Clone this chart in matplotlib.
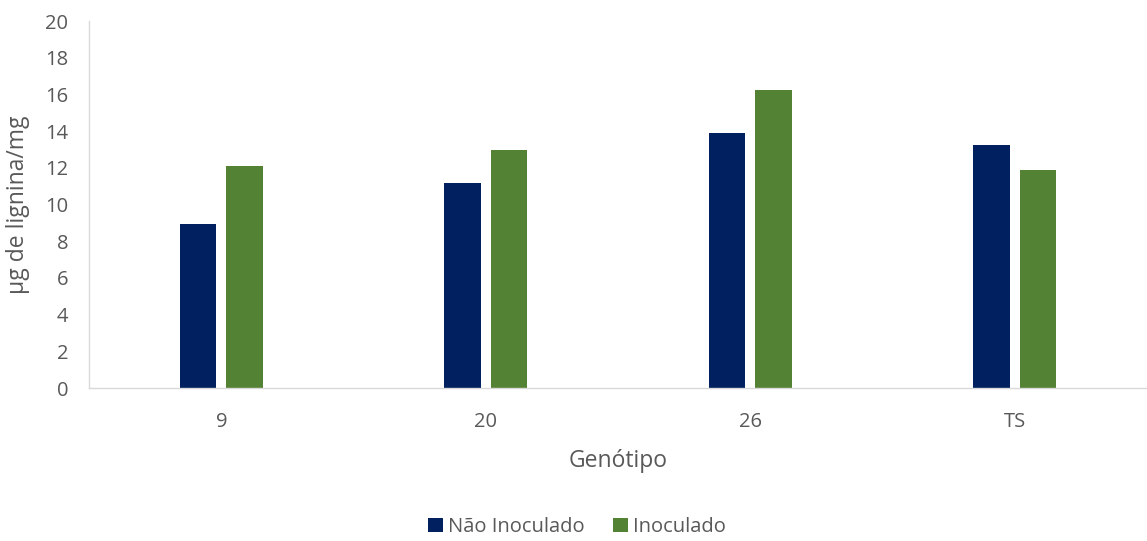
import numpy as np
import matplotlib.pyplot as plt

plt.rcParams['font.family'] = ['Open Sans', 'DejaVu Sans']

genotipos = ["9", "20", "26", "TS"]
nao_inoculado = [8.94, 11.19, 13.91, 13.24]
inoculado = [12.10, 12.97, 16.24, 11.88]

cinza = "#595959"
fig = plt.figure(figsize=(11.47, 5.41), dpi=100)
ax = fig.add_axes([0.0776, 0.2828, 0.9224, 0.6782])

x = np.arange(len(genotipos))
w = 0.138
ax.bar(x - 0.0875, nao_inoculado, w, color="#002060", label="Não Inoculado")
ax.bar(x + 0.0875, inoculado, w, color="#548235", label="Inoculado")

ax.set_xlim(-0.5, 3.5)
ax.set_ylim(0, 20)
ax.set_yticks(np.arange(0, 21, 2))
ax.set_xticks(x)
ax.set_xticklabels(genotipos)
ax.tick_params(length=0, colors=cinza, labelsize=14.5)
ax.tick_params(axis="x", pad=17)
ax.tick_params(axis="y", pad=15)

for s in ["top", "right"]:
    ax.spines[s].set_visible(False)
for s in ["left", "bottom"]:
    ax.spines[s].set_color("#d9d9d9")
    ax.spines[s].set_linewidth(1)

ax.set_xlabel("Genótipo", color=cinza, fontsize=16.5)
ax.set_ylabel("µg de lignina/mg", color=cinza, fontsize=16.5)
ax.xaxis.set_label_coords(0.5, -0.166)
ax.yaxis.set_label_coords(-0.056, 0.5)

fig.legend(loc="center", bbox_to_anchor=(0.503, 0.026), ncol=2, frameon=False,
           fontsize=14.5, labelcolor=cinza, handlelength=0.75, handleheight=0.75,
           handletextpad=0.25, columnspacing=1.4)

fig.savefig("out.png", dpi=100)
